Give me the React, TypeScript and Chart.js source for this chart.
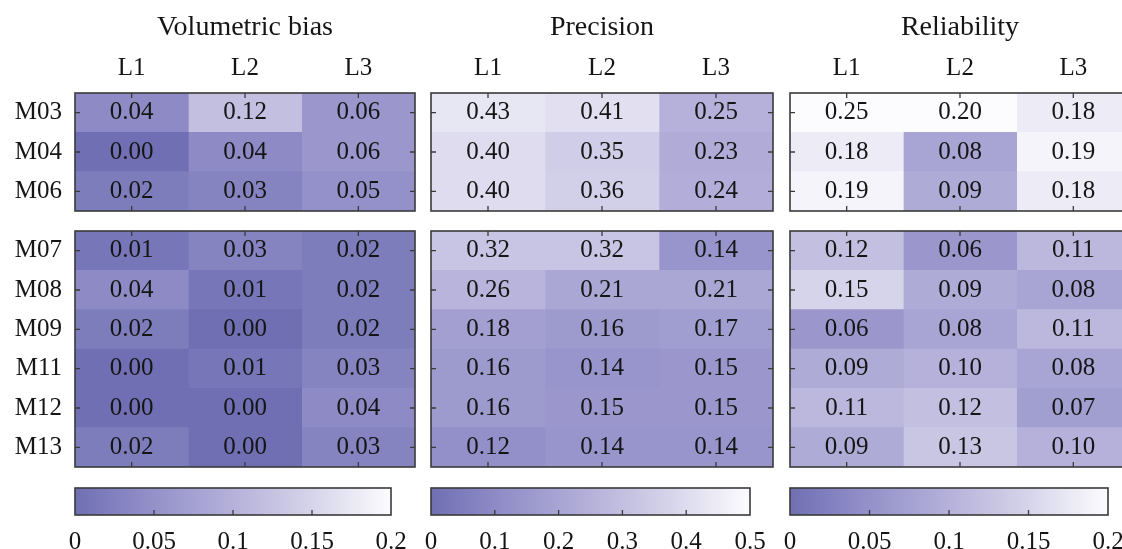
import React, { useEffect, useRef } from "react";
import { Chart, registerables } from "chart.js";

Chart.register(...registerables);

// ---------------- data ----------------
const rowsTop = ["M03", "M04", "M06"];
const rowsBottom = ["M07", "M08", "M09", "M11", "M12", "M13"];
const levels = ["L1", "L2", "L3"];
const metricTitles = ["Volumetric bias", "Precision", "Reliability"];

// rows in order: M03, M04, M06, M07, M08, M09, M11, M12, M13
const biasL1 = [0.04, 0.0, 0.02, 0.01, 0.04, 0.02, 0.0, 0.0, 0.02];
const biasL2 = [0.12, 0.04, 0.03, 0.03, 0.01, 0.0, 0.01, 0.0, 0.0];
const biasL3 = [0.06, 0.06, 0.05, 0.02, 0.02, 0.02, 0.03, 0.04, 0.03];

const precL1 = [0.43, 0.4, 0.4, 0.32, 0.26, 0.18, 0.16, 0.16, 0.12];
const precL2 = [0.41, 0.35, 0.36, 0.32, 0.21, 0.16, 0.14, 0.15, 0.14];
const precL3 = [0.25, 0.23, 0.24, 0.14, 0.21, 0.17, 0.15, 0.15, 0.14];

const relL1 = [0.25, 0.18, 0.19, 0.12, 0.15, 0.06, 0.09, 0.11, 0.09];
const relL2 = [0.2, 0.08, 0.09, 0.06, 0.09, 0.08, 0.1, 0.12, 0.13];
const relL3 = [0.18, 0.19, 0.18, 0.11, 0.08, 0.11, 0.08, 0.07, 0.1];

const biasTicks = [0, 0.05, 0.1, 0.15, 0.2];
const precTicks = [0, 0.1, 0.2, 0.3, 0.4, 0.5];
const relTicks = [0, 0.05, 0.1, 0.15, 0.2];

// ---------------- style ----------------
const FONT = "'Liberation Serif', 'Times New Roman', Times, serif";
const TEXT = "#151515";
const FRAME = "#3a3a3a";
const cmapStops = [0, 0.25, 0.5, 0.75, 1];
const cmapColors = [
  [112, 111, 179],
  [148, 145, 202],
  [181, 177, 218],
  [214, 212, 234],
  [252, 252, 254],
];

function rgb(c: number[]) {
  return `rgb(${Math.round(c[0])},${Math.round(c[1])},${Math.round(c[2])})`;
}

function cmap(t: number): string {
  const x = Math.max(0, Math.min(1, t));
  for (let i = 1; i < cmapStops.length; i++) {
    if (x <= cmapStops[i]) {
      const f = (x - cmapStops[i - 1]) / (cmapStops[i] - cmapStops[i - 1]);
      const a = cmapColors[i - 1];
      const b = cmapColors[i];
      return rgb([a[0] + (b[0] - a[0]) * f, a[1] + (b[1] - a[1]) * f, a[2] + (b[2] - a[2]) * f]);
    }
  }
  return rgb(cmapColors[cmapColors.length - 1]);
}

// ---------------- layout ----------------
const W = 1122;
const H = 549;
const PANEL_LEFT = [75, 431, 790];
const PANEL_W = [340, 342, 340];
const CB_W = [316, 319, 318];
const TOP_Y0 = 93;
const TOP_Y1 = 211;
const BOT_Y0 = 231;
const BOT_Y1 = 467;
const CB_Y0 = 488;
const CB_Y1 = 515;
const TITLE_FONT = 28;
const TITLE_PAD = 11;
const CELL_FONT = 25;
const COL_FONT = 25;
const ROW_FONT = 25;
const CB_FONT = 25;
const M = 8;
const CB_SIDE = 24;
const CB_AXIS_H = 40;
const TICK_LEN = 5;
const CELL_SPAN = 1; // each cell occupies one unit along the column axis

Chart.defaults.font.family = FONT;
Chart.defaults.color = TEXT;

const decorPlugin = {
  id: "decor",
  afterDatasetsDraw(chart: any, _args: any, opts: any) {
    if (!opts || !opts.kind) return;
    const ctx = chart.ctx as CanvasRenderingContext2D;
    const a = chart.chartArea;
    ctx.save();
    ctx.strokeStyle = FRAME;
    ctx.lineWidth = 1.3;
    if (opts.kind === "block") {
      ctx.fillStyle = TEXT;
      ctx.font = `${CELL_FONT}px ${FONT}`;
      ctx.textAlign = "center";
      ctx.textBaseline = "middle";
      const colCenters: number[] = [];
      chart.data.datasets.forEach((ds: any, di: number) => {
        const meta = chart.getDatasetMeta(di);
        meta.data.forEach((el: any, i: number) => {
          const cx = (el.x + el.base) / 2;
          if (i === 0) colCenters.push(cx);
          ctx.fillText(Number(ds.cellValues[i]).toFixed(2), cx, el.y);
        });
      });
      ctx.beginPath();
      colCenters.forEach((cx) => {
        ctx.moveTo(cx, a.top);
        ctx.lineTo(cx, a.top + TICK_LEN);
        ctx.moveTo(cx, a.bottom);
        ctx.lineTo(cx, a.bottom - TICK_LEN);
      });
      const ys = chart.scales.y;
      ys.ticks.forEach((_t: any, i: number) => {
        const y = ys.getPixelForTick(i);
        ctx.moveTo(a.left, y);
        ctx.lineTo(a.left + TICK_LEN, y);
        ctx.moveTo(a.right, y);
        ctx.lineTo(a.right - TICK_LEN, y);
      });
      ctx.stroke();
    } else {
      const xs = chart.scales.x;
      const vals = opts.ticks as number[];
      ctx.beginPath();
      vals.slice(1, -1).forEach((v) => {
        const x = xs.getPixelForValue(v);
        ctx.moveTo(x, a.bottom);
        ctx.lineTo(x, a.bottom - TICK_LEN);
      });
      ctx.stroke();
    }
    ctx.lineWidth = 1.6;
    ctx.strokeRect(a.left, a.top, a.right - a.left, a.bottom - a.top);
    ctx.restore();
  },
};

function blockConfig(rows: string[], cols: number[][], vmax: number, isTop: boolean, lm: number, title: string) {
  const scales: any = {
    x: { type: "linear", stacked: true, display: false, min: 0, max: cols.length * CELL_SPAN },
    y: {
      type: "category",
      stacked: true,
      offset: true,
      grid: { display: false, drawTicks: false },
      border: { display: false },
      ticks: { display: lm > 20, font: { size: ROW_FONT }, padding: 13, color: TEXT },
      afterFit: (s: any) => {
        s.width = lm;
        s.paddingTop = 0;
        s.paddingBottom = 0;
      },
    },
  };
  if (isTop) {
    scales.xTop = {
      type: "category",
      axis: "x",
      position: "top",
      labels: levels,
      offset: true,
      grid: { display: false, drawTicks: false },
      border: { display: false },
      ticks: { font: { size: COL_FONT }, padding: 10, color: TEXT, maxRotation: 0 },
      afterFit: (s: any) => {
        s.height = TOP_Y0 - (TITLE_FONT * 1.2 + TITLE_PAD);
        s.paddingLeft = 0;
        s.paddingRight = 0;
      },
    };
  }
  return {
    type: "bar",
    data: {
      labels: rows,
      datasets: cols.map((vals, ci) => ({
        label: levels[ci],
        data: vals.map(() => CELL_SPAN),
        cellValues: vals,
        backgroundColor: vals.map((v) => cmap(v / vmax)),
        borderWidth: 0,
        barPercentage: 1,
        categoryPercentage: 1,
      })),
    },
    options: {
      responsive: false,
      animation: false,
      indexAxis: "y",
      events: [],
      layout: { padding: { left: 0, right: M, top: isTop ? 0 : M, bottom: M } },
      scales,
      plugins: {
        legend: { display: false },
        tooltip: { enabled: false },
        title: {
          display: isTop,
          text: title,
          fullSize: false,
          color: TEXT,
          font: { size: TITLE_FONT, weight: "normal" },
          padding: { top: TITLE_PAD, bottom: 0 },
        },
        decor: { kind: "block" },
      },
    },
    plugins: [decorPlugin],
  };
}

function colorbarConfig(ticks: number[]) {
  const lo = ticks[0];
  const hi = ticks[ticks.length - 1];
  return {
    type: "bar",
    data: {
      labels: [""],
      datasets: [
        {
          data: [[lo, hi]],
          backgroundColor: (c: any) => {
            const chart = c.chart;
            if (!chart.chartArea) return rgb(cmapColors[0]);
            const xs = chart.scales.x;
            const g = chart.ctx.createLinearGradient(xs.getPixelForValue(lo), 0, xs.getPixelForValue(hi), 0);
            cmapStops.forEach((s, i) => g.addColorStop(s, rgb(cmapColors[i])));
            return g;
          },
          borderWidth: 0,
          barPercentage: 1,
          categoryPercentage: 1,
        },
      ],
    },
    options: {
      responsive: false,
      animation: false,
      indexAxis: "y",
      events: [],
      layout: { padding: { left: CB_SIDE, right: CB_SIDE, top: 4, bottom: 0 } },
      scales: {
        x: {
          type: "linear",
          min: lo,
          max: hi,
          afterBuildTicks: (s: any) => {
            s.ticks = ticks.map((v) => ({ value: v }));
          },
          ticks: {
            font: { size: CB_FONT },
            color: TEXT,
            padding: 12,
            maxRotation: 0,
            autoSkip: false,
            callback: (v: any) => String(v),
          },
          grid: { display: false, drawTicks: false },
          border: { display: false },
          afterFit: (s: any) => {
            s.height = CB_AXIS_H;
            s.paddingLeft = 0;
            s.paddingRight = 0;
          },
        },
        y: { type: "category", display: false },
      },
      plugins: {
        legend: { display: false },
        tooltip: { enabled: false },
        decor: { kind: "bar", ticks },
      },
    },
    plugins: [decorPlugin],
  };
}

type Box = { left: number; top: number; width: number; height: number };

function ChartCanvas({ box, make }: { box: Box; make: () => any }) {
  const ref = useRef<HTMLCanvasElement>(null);
  useEffect(() => {
    if (!ref.current) return;
    const chart = new Chart(ref.current, make());
    return () => chart.destroy();
  }, []);
  return (
    <canvas
      ref={ref}
      width={box.width}
      height={box.height}
      style={{ position: "absolute", left: box.left, top: box.top, width: box.width, height: box.height }}
    />
  );
}

const metrics = [
  { title: metricTitles[0], cols: [biasL1, biasL2, biasL3], ticks: biasTicks },
  { title: metricTitles[1], cols: [precL1, precL2, precL3], ticks: precTicks },
  { title: metricTitles[2], cols: [relL1, relL2, relL3], ticks: relTicks },
];

export default function App() {
  const nTop = rowsTop.length;
  return (
    <div
      style={{
        position: "fixed",
        left: 0,
        top: 0,
        width: W,
        height: H,
        overflow: "hidden",
        background: "#ffffff",
      }}
    >
      {metrics.map((m, p) => {
        const lm = p === 0 ? PANEL_LEFT[0] : 10;
        const vmax = m.ticks[m.ticks.length - 1];
        const topCols = m.cols.map((c) => c.slice(0, nTop));
        const botCols = m.cols.map((c) => c.slice(nTop));
        const bw = lm + PANEL_W[p] + M;
        return (
          <React.Fragment key={p}>
            <ChartCanvas
              box={{ left: PANEL_LEFT[p] - lm, top: 0, width: bw, height: TOP_Y1 + M }}
              make={() => blockConfig(rowsTop, topCols, vmax, true, lm, m.title)}
            />
            <ChartCanvas
              box={{ left: PANEL_LEFT[p] - lm, top: BOT_Y0 - M, width: bw, height: BOT_Y1 - BOT_Y0 + 2 * M }}
              make={() => blockConfig(rowsBottom, botCols, vmax, false, lm, m.title)}
            />
            <ChartCanvas
              box={{
                left: PANEL_LEFT[p] - CB_SIDE,
                top: CB_Y0 - 4,
                width: CB_W[p] + 2 * CB_SIDE,
                height: CB_Y1 - CB_Y0 + 4 + CB_AXIS_H,
              }}
              make={() => colorbarConfig(m.ticks)}
            />
          </React.Fragment>
        );
      })}
    </div>
  );
}
